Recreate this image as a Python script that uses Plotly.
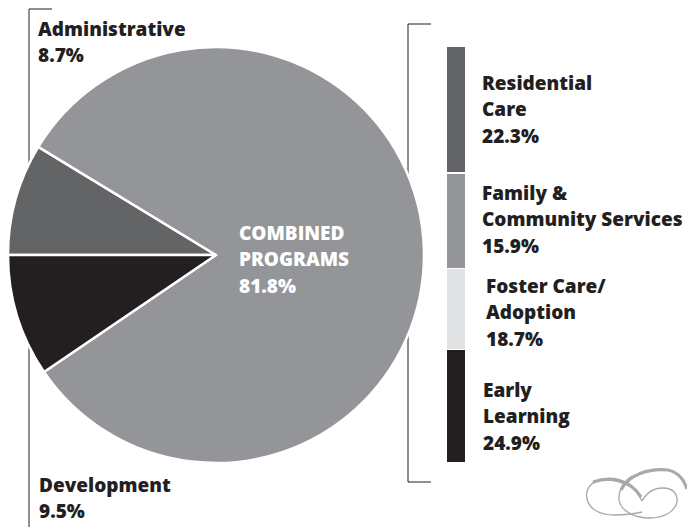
import plotly.graph_objects as go

W, H = 687, 527

# ---- data ----
pie_labels = ["Administrative", "Combined Programs", "Development"]
pie_values = [8.7, 81.8, 9.5]
pie_colors = ["#636466", "#939598", "#231f20"]

# stacked program bar, bottom to top (segment sizes as drawn in the picture)
bar_names = ["Early Learning", "Foster Care/Adoption", "Family & Community Services", "Residential Care"]
bar_sizes = [22.3, 15.9, 18.7, 24.9]
bar_colors = ["#231f20", "#e1e2e3", "#939598", "#636466"]

# label texts
left_labels = [["Administrative", "8.7%"], ["Development", "9.5%"]]
right_labels = [["Residential", "Care", "22.3%"],
                ["Family &", "Community Services", "15.9%"],
                ["Foster Care/", "Adoption", "18.7%"],
                ["Early", "Learning", "24.9%"]]
center_label = ["COMBINED", "PROGRAMS", "81.8%"]

FONT = "Open Sans"
TXT = "#231f20"

def px(x):
    return x / W

def py(y):
    return 1 - y / H

fig = go.Figure()

# pie: square domain of 416 px centred at (216, 255)
cx, cy, r = 216, 255, 208
fig.add_trace(go.Pie(
    labels=pie_labels, values=pie_values, sort=False, direction="clockwise",
    rotation=-90, marker=dict(colors=pie_colors, line=dict(color="white", width=2.5)),
    textinfo="none", hoverinfo="label+value", showlegend=False,
    domain=dict(x=[px(cx - r), px(cx + r)], y=[py(cy + r), py(cy - r)]),
))

for name, val, col in zip(bar_names, bar_sizes, bar_colors):
    fig.add_trace(go.Bar(
        x=[0], y=[val], name=name, marker=dict(color=col, line=dict(color="white", width=1.5)),
        width=1, showlegend=False, xaxis="x", yaxis="y",
    ))

fig.update_layout(
    width=W, height=H, margin=dict(l=0, r=0, t=0, b=0),
    paper_bgcolor="white", plot_bgcolor="rgba(0,0,0,0)", barmode="stack",
    xaxis=dict(domain=[px(446), px(466)], range=[-0.5, 0.5], visible=False, fixedrange=True),
    yaxis=dict(domain=[py(463), py(46)], range=[0, sum(bar_sizes)], visible=False, fixedrange=True),
)

# brackets (under the pie)
line = dict(color="#231f20", width=1)
shapes = [
    dict(type="path", path=f"M {px(52)},{py(9)} L {px(29)},{py(9)} L {px(29)},{py(200)}"),
    dict(type="path", path=f"M {px(29)},{py(330)} L {px(29)},{py(530)}"),
    dict(type="path", path=f"M {px(431)},{py(24)} L {px(408)},{py(24)} L {px(408)},{py(482)} L {px(431)},{py(482)}"),
]
for s in shapes:
    s.update(xref="paper", yref="paper", line=line, layer="below")
    fig.add_shape(**s)

# logo swirl
logo_col = "#a7a9ac"
logo = [
    # left loop
    ("M 642,501 C 636,487 622,480 605,480 C 591,480 585,489 587,499 C 589,509 600,515 614,515 C 624,515 634,514 642,512", 1.3),
    # right loop
    ("M 642,501 C 647,492 655,488 663,488 C 673,488 678,494 677,502 C 675,512 663,518 650,518 C 634,518 621,511 619,500 C 618,490 624,481 632,476", 1.3),
    # thick strokes
    ("M 593,482 C 610,476 630,479 641,497", 3.2),
    ("M 621,490 C 629,474 650,468 668,470 C 678,472 684,480 687,489", 3.2),
]
for d, w in logo:
    out = []
    for t in d.split():
        if "," in t:
            a, b = t.split(",")
            out.append(f"{px(float(a))},{py(float(b))}")
        else:
            out.append(t)
    fig.add_shape(type="path", path=" ".join(out), xref="paper", yref="paper",
                  line=dict(color=logo_col, width=w))

def text_block(lines, x, cap_top, pitch, size, color=TXT):
    for i, t in enumerate(lines):
        base = cap_top + i * pitch
        fig.add_annotation(
            text=t, x=px(x), y=py(base + 0.36 * size), xref="paper", yref="paper",
            xanchor="left", yanchor="middle", showarrow=False,
            font=dict(family=FONT, size=size, color=color, weight=800), align="left",
        )

S = 19
text_block(left_labels[0], 36, 22, 26.5, S)
text_block(left_labels[1], 37, 478, 26.5, S)
text_block(center_label, 237, 226, 26.5, S, color="white")
text_block(right_labels[0], 480, 76, 26.5, S)
text_block(right_labels[1], 480, 186, 26.5, S)
text_block(right_labels[2], 484, 279, 26.5, S)
text_block(right_labels[3], 481, 383, 26.5, S)

fig.write_html("out.html")
